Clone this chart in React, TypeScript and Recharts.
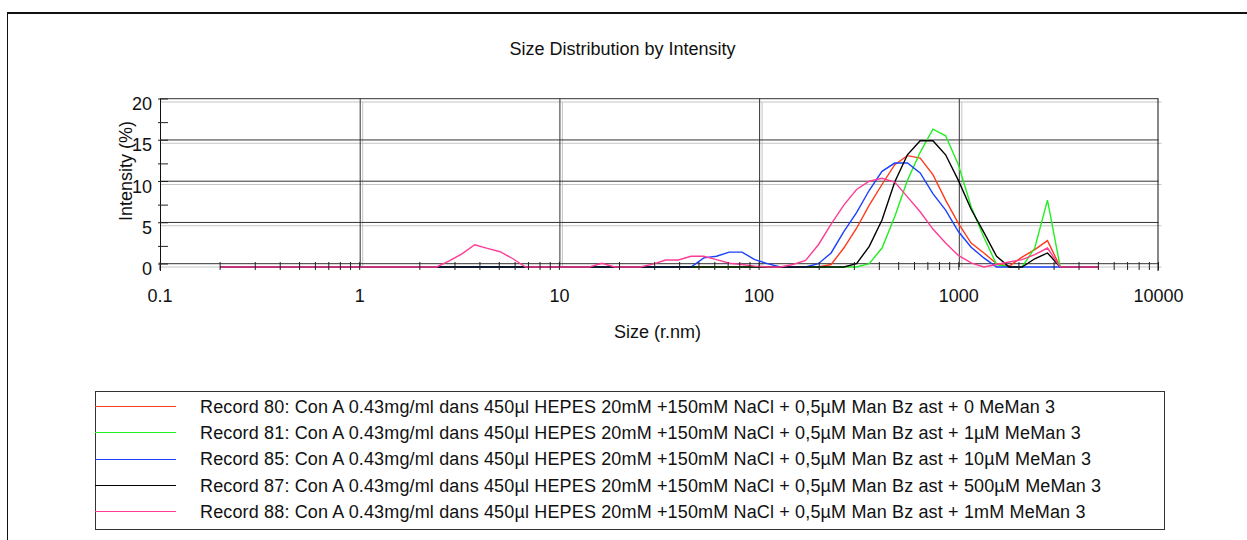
import { LineChart, Line, XAxis, YAxis, ReferenceLine } from "recharts"

const FONT = '"Liberation Sans", Arial, sans-serif'

// size classes, radius in nm
const sizes = [
  0.2, 0.2316, 0.2683, 0.3107, 0.3598, 0.4166, 0.4825, 0.5585, 0.647, 0.7495,
  0.868, 1.005, 1.164, 1.348, 1.561, 1.808, 2.094, 2.425, 2.808, 3.252,
  3.766, 4.361, 5.05, 5.85, 6.77, 7.845, 9.085, 10.52, 12.18, 14.11,
  16.34, 18.92, 21.91, 25.38, 29.39, 34.03, 39.41, 45.64, 52.85, 61.2,
  70.9, 82.1, 95.05, 110.1, 127.5, 147.7, 171.0, 198.1, 229.4, 265.6,
  307.6, 356.2, 412.5, 477.7, 553, 640.5, 742, 859, 995, 1153,
  1335, 1546, 1790, 2073, 2401, 2780, 3220, 3728, 4318, 5000,
]

const rec80 = [
  0, 0, 0, 0, 0, 0, 0, 0, 0, 0,
  0, 0, 0, 0, 0, 0, 0, 0, 0, 0,
  0, 0, 0, 0, 0, 0, 0, 0, 0, 0,
  0, 0, 0, 0, 0, 0, 0, 0, 0, 0,
  0, 0, 0, 0, 0, 0, 0, 0, 0.3, 2.3,
  4.7, 7.5, 10.0, 12.4, 13.5, 13.2, 11.2, 8.1, 5.3, 2.9,
  1.7, 0.4, 0.1, 1.2, 2.1, 3.2, 0, 0, 0, 0,
]

const rec81 = [
  0, 0, 0, 0, 0, 0, 0, 0, 0, 0,
  0, 0, 0, 0, 0, 0, 0, 0, 0, 0,
  0, 0, 0, 0, 0, 0, 0, 0, 0, 0,
  0, 0, 0, 0, 0, 0, 0, 0, 0, 0,
  0, 0, 0, 0, 0, 0, 0, 0, 0, 0,
  0, 0.4, 2.3, 6.1, 10.5, 13.9, 16.7, 15.9, 12.4, 7.3,
  3.6, 0.3, 0, 0, 2.3, 8.1, 0, 0, 0, 0,
]

const rec85 = [
  0, 0, 0, 0, 0, 0, 0, 0, 0, 0,
  0, 0, 0, 0, 0, 0, 0, 0, 0, 0,
  0, 0, 0, 0, 0, 0, 0, 0, 0, 0,
  0, 0, 0, 0, 0, 0, 0, 0, 1.1, 1.3,
  1.8, 1.8, 0.9, 0.4, 0, 0, 0, 0.4, 1.7, 4.3,
  6.6, 9.3, 11.6, 12.6, 12.6, 11.4, 8.9, 6.9, 4.3, 2.4,
  1.1, 0, 0, 0, 0, 0, 0, 0, 0, 0,
]

const rec87 = [
  0, 0, 0, 0, 0, 0, 0, 0, 0, 0,
  0, 0, 0, 0, 0, 0, 0, 0, 0, 0,
  0, 0, 0, 0, 0, 0, 0, 0, 0, 0,
  0, 0, 0, 0, 0, 0, 0, 0, 0, 0,
  0, 0, 0, 0, 0, 0, 0, 0, 0, 0,
  0.4, 2.5, 5.7, 10.3, 13.6, 15.3, 15.3, 13.6, 10.5, 7.0,
  4.2, 1.3, 0, 0, 1.0, 1.7, 0, 0, 0, 0,
]

const rec88 = [
  0, 0, 0, 0, 0, 0, 0, 0, 0, 0,
  0, 0, 0, 0, 0, 0, 0, 0, 0.75, 1.6,
  2.7, 2.25, 1.85, 1.0, 0, 0, 0, 0, 0, 0,
  0.45, 0, 0, 0, 0.35, 0.85, 0.85, 1.3, 1.3, 0.9,
  0.45, 0.3, 0.1, 0, 0, 0.3, 0.8, 2.7, 5.2, 7.5,
  9.4, 10.4, 10.75, 10.3, 8.5, 6.7, 4.6, 2.9, 1.4, 0.5,
  0, 0.3, 0.6, 0.9, 1.5, 2.3, 0, 0, 0, 0,
]

const prefix = "Con A 0.43mg/ml dans 450µl HEPES 20mM +150mM NaCl + 0,5µM Man Bz ast + "

const series = [
  { key: "rec80", color: "#ff3a1a", values: rec80, label: `Record 80: ${prefix}0 MeMan 3` },
  { key: "rec81", color: "#22ee22", values: rec81, label: `Record 81: ${prefix}1µM MeMan 3` },
  { key: "rec85", color: "#1a40ff", values: rec85, label: `Record 85: ${prefix}10µM MeMan 3` },
  { key: "rec87", color: "#000000", values: rec87, label: `Record 87: ${prefix}500µM MeMan 3` },
  { key: "rec88", color: "#ff3c96", values: rec88, label: `Record 88: ${prefix}1mM MeMan 3` },
]

const decades = [0.1, 1, 10, 100, 1000]
const xTicks = [...decades.flatMap((d) => [1, 2, 3, 4, 5, 6, 7, 8, 9].map((m) => m * d)), 10000]
const xLabels = [0.1, 1, 10, 100, 1000, 10000]
const yTicks = [0, 2.5, 5, 7.5, 10, 12.5, 15, 17.5, 20]
const yLabels = [0, 5, 10, 15, 20]
const gridX = [0.1, 1, 10, 100, 1000, 10000]
const gridY = [0, 5, 10, 15, 20]

const data = sizes.map((size, i) => {
  const row: Record<string, number> = { size }
  series.forEach((s) => {
    row[s.key] = s.values[i]
  })
  return row
})

const DARK = "#333"
const LIGHT = "#c4c4c4"

const hShape = (dy: number, stroke: string, extend = 0) => (p: any) =>
  <line x1={p.x1} y1={p.y1 + dy} x2={Math.max(p.x1, p.x2) + extend} y2={p.y2 + dy} stroke={stroke} strokeWidth={1} />

const vShape = (dx: number, stroke: string, top: number, bottom: number) => (p: any) => {
  const y0 = Math.min(p.y1, p.y2)
  const y1 = Math.max(p.y1, p.y2)
  return <line x1={p.x1 + dx} y1={y0 + top} x2={p.x2 + dx} y2={y1 + bottom} stroke={stroke} strokeWidth={1} />
}

const isDecade = (v: number) => xLabels.some((l) => Math.abs(l - v) < 1e-9)

function XTick({ x, y, payload }: any) {
  const v = payload.value
  return (
    <g>
      <line x1={x} x2={x} y1={y - 5} y2={y + 3} stroke="#222" />
      {isDecade(v) && (
        <text x={x} y={y + 35} textAnchor="middle" fontSize={18} fontFamily={FONT} fill="#111">
          {String(v)}
        </text>
      )}
    </g>
  )
}

function YTick({ x, y, payload }: any) {
  const v = payload.value
  const major = yLabels.includes(v)
  const ty = major ? y - 3 : y
  return (
    <g>
      <line x1={x - 2} x2={x + 8} y1={ty} y2={ty} stroke="#222" />
      {major && (
        <text x={x - 8} y={y + 8} textAnchor="end" fontSize={18} fontFamily={FONT} fill="#111">
          {v}
        </text>
      )}
    </g>
  )
}

export default function App() {
  return (
    <div style={{ position: "absolute", left: 0, top: 0, width: 1247, height: 540, background: "#fff", fontFamily: FONT, overflow: "hidden", color: "#111" }}>
      <div style={{ position: "absolute", left: 7, top: 12, right: -2, bottom: -2, borderLeft: "1px solid #111", borderTop: "2px solid #111" }} />
      <div style={{ position: "absolute", left: 0, top: 39.5, width: 1245, textAlign: "center", fontSize: 18, lineHeight: "18px" }}>
        Size Distribution by Intensity
      </div>
      <div style={{ position: "absolute", left: 0, top: 0 }}>
        <LineChart width={1247} height={360} data={data} margin={{ top: 102, right: 88.5, bottom: 0, left: 0 }}>
          <XAxis
            dataKey="size"
            type="number"
            scale="log"
            domain={[0.1, 10000]}
            ticks={xTicks}
            interval={0}
            allowDataOverflow
            axisLine={false}
            tickLine={false}
            tickSize={0}
            tickMargin={0}
            height={93}
            tick={<XTick />}
          />
          <YAxis
            type="number"
            domain={[0, 20]}
            ticks={yTicks}
            interval={0}
            axisLine={false}
            tickLine={false}
            tickSize={0}
            tickMargin={0}
            width={160}
            tick={<YTick />}
          />
          {gridY.map((v) => (
            <ReferenceLine key={`yl${v}`} y={v} shape={hShape(0, LIGHT, 3)} />
          ))}
          {gridX.slice(1, -1).map((v) => (
            <ReferenceLine key={`xl${v}`} x={v} shape={vShape(3, LIGHT, 0, 0)} />
          ))}
          {gridY.map((v) => (
            <ReferenceLine key={`yd${v}`} y={v} shape={hShape(-3.3, DARK)} />
          ))}
          {gridX.map((v, i) => (
            <ReferenceLine
              key={`xd${v}`}
              x={v}
              shape={vShape(i === gridX.length - 1 ? -0.5 : 0.5, i === 0 || i === gridX.length - 1 ? "#111" : DARK, -3.3, i === 0 || i === gridX.length - 1 ? 4 : 0)}
            />
          ))}
          {series.map((s) => (
            <Line
              key={s.key}
              dataKey={s.key}
              type="linear"
              stroke={s.color}
              strokeWidth={1.4}
              dot={false}
              activeDot={false}
              isAnimationActive={false}
            />
          ))}
        </LineChart>
      </div>
      <div style={{ position: "absolute", left: 26, top: 161.5, width: 200, height: 18, textAlign: "center", fontSize: 18, lineHeight: "18px", transform: "rotate(-90deg)", transformOrigin: "100px 9px" }}>
        Intensity (%)
      </div>
      <div style={{ position: "absolute", left: 457.5, top: 323, width: 400, textAlign: "center", fontSize: 18, lineHeight: "18px" }}>
        Size (r.nm)
      </div>
      <div style={{ position: "absolute", left: 95, top: 391, width: 1070, height: 139, boxSizing: "border-box", border: "1px solid #333" }}>
        {series.map((s, i) => (
          <div key={s.key}>
            <div style={{ position: "absolute", left: -1, top: 14.2 + i * 26.2, width: 81, borderTop: `1.5px solid ${s.color}` }} />
            <div style={{ position: "absolute", left: 104, top: 14.7 + i * 26.2 - 12.8, height: 26, lineHeight: "26px", fontSize: 18, letterSpacing: "0.15px", whiteSpace: "nowrap" }}>
              {s.label}
            </div>
          </div>
        ))}
      </div>
    </div>
  )
}
